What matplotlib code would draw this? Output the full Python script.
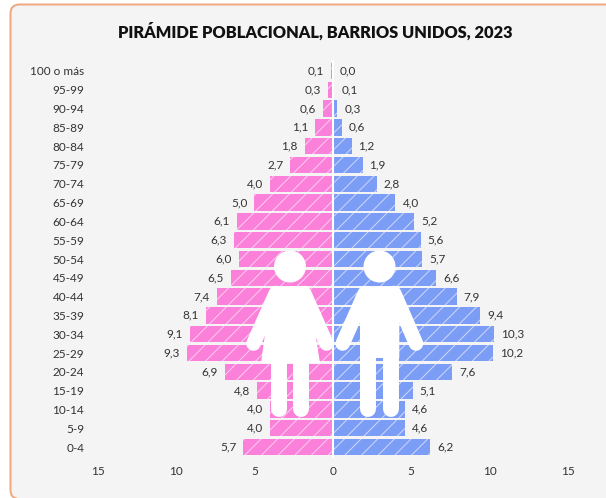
"""Population pyramid for Barrios Unidos, 2023"""

import matplotlib

matplotlib.use("Agg")
import matplotlib.pyplot as plt
from matplotlib.patches import Circle, FancyBboxPatch, Polygon

ages = ["100 o más", "95-99", "90-94", "85-89", "80-84", "75-79", "70-74",
        "65-69", "60-64", "55-59", "50-54", "45-49", "40-44", "35-39",
        "30-34", "25-29", "20-24", "15-19", "10-14", "5-9", "0-4"]
women = [0.1, 0.3, 0.6, 1.1, 1.8, 2.7, 4.0, 5.0, 6.1, 6.3, 6.0, 6.5, 7.4,
         8.1, 9.1, 9.3, 6.9, 4.8, 4.0, 4.0, 5.7]
men = [0.0, 0.1, 0.3, 0.6, 1.2, 1.9, 2.8, 4.0, 5.2, 5.6, 5.7, 6.6, 7.9,
       9.4, 10.3, 10.2, 7.6, 5.1, 4.6, 4.6, 6.2]
x_ticks = [-15, -10, -5, 0, 5, 10, 15]

W, H = 606, 498
PINK = "#FB80D9"
BLUE = "#7C9DF6"
TEXT = "#333333"
PAPER = "#F4F4F4"
FRAME = "#F0A67E"

plt.rcParams["font.family"] = ["Lato", "DejaVu Sans"]
plt.rcParams["hatch.linewidth"] = 0.7


def comma(value):
    return f"{value:.1f}".replace(".", ",")


def draw_backdrop(fig):
    """Card behind the chart, in pixel coordinates"""
    bg = fig.add_axes([0, 0, 1, 1], zorder=0)
    bg.set_xlim(0, W)
    bg.set_ylim(H, 0)
    bg.axis("off")
    bg.add_patch(FancyBboxPatch((10.5, 4.5), W + 30, H - 3.5,
                                boxstyle="round,pad=0,rounding_size=9",
                                fc=PAPER, ec=FRAME, lw=1.4))


def draw_limbs(ax, segments, width):
    for (x0, y0), (x1, y1) in segments:
        ax.plot([x0, x1], [y0, y1], color="white", lw=width, solid_capstyle="round")


def draw_people(fig):
    """White woman and man silhouettes over the bars"""
    top = fig.add_axes([0, 0, 1, 1], zorder=3)
    top.set_xlim(0, W)
    top.set_ylim(H, 0)
    top.axis("off")
    top.patch.set_alpha(0)

    # woman
    top.add_patch(Circle((290, 266.5), 16, fc="white", ec="none"))
    top.add_patch(Polygon([(273, 290), (278, 286.5), (302, 286.5), (307, 290), (313, 320),
                           (320, 363), (261, 363), (267, 320)],
                          closed=True, fc="white", ec="none"))
    draw_limbs(top, [((276, 293), (253.5, 343.5)), ((304, 293), (326.5, 343.5))], 10.5)
    draw_limbs(top, [((278.7, 360), (278.7, 409)), ((301.2, 360), (301.2, 409))], 11.5)

    # man
    top.add_patch(Circle((379.5, 266.5), 16, fc="white", ec="none"))
    top.add_patch(Polygon([(362, 290), (367, 286.5), (393, 286.5), (397, 290), (399.3, 300),
                           (399.3, 358), (360, 358), (360, 300)],
                          closed=True, fc="white", ec="none"))
    draw_limbs(top, [((365, 293), (342.7, 343.5)), ((394, 293), (416, 343.5))], 10.5)
    draw_limbs(top, [((368, 350), (368, 409)), ((391, 350), (391, 409))], 11.5)


def main():
    fig = plt.figure(figsize=(W / 100, H / 100), dpi=100, facecolor="white")
    draw_backdrop(fig)

    ax = fig.add_axes([97.5 / W, 1 - 458 / H, 470.5 / W, 398 / H], zorder=2)
    ax.patch.set_alpha(0)
    rows = list(range(len(ages)))
    left = ax.barh(rows, [-v for v in women], height=0.88, color=PINK,
                   edgecolor="#FFFFFFA0", hatch="//", linewidth=0)
    right = ax.barh(rows, men, height=0.88, color=BLUE,
                    edgecolor="#FFFFFFA0", hatch="//", linewidth=0)
    ax.bar_label(left, labels=[comma(v) for v in women], padding=5,
                 fontsize=8.5, color=TEXT)
    ax.bar_label(right, labels=[comma(v) for v in men], padding=5,
                 fontsize=8.5, color=TEXT)
    ax.axvline(0, color="white", lw=1.5)

    ax.set_xlim(-15, 15)
    ax.set_ylim(len(ages) - 0.415, -0.585)
    ax.set_xticks(x_ticks, [str(abs(t)) for t in x_ticks])
    ax.set_yticks(rows, ages)
    ax.tick_params(axis="x", length=0, pad=5.5, labelsize=8.5, labelcolor=TEXT)
    ax.tick_params(axis="y", length=0, pad=9.5, labelsize=8.5, labelcolor=TEXT)
    for spine in ax.spines.values():
        spine.set_visible(False)

    fig.text(315 / W, 1 - 32 / H, "PIRÁMIDE POBLACIONAL, BARRIOS UNIDOS, 2023",
             ha="center", va="center", fontsize=11.8, fontweight="heavy", color="#111111")

    draw_people(fig)
    fig.savefig("out.png", dpi=100, facecolor=fig.get_facecolor())


if __name__ == "__main__":
    main()
